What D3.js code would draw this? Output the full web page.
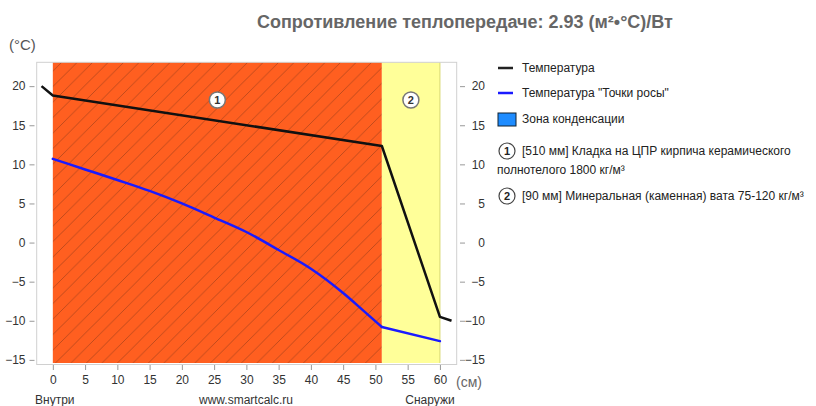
<!DOCTYPE html>
<html>
<head>
<meta charset="utf-8">
<script src="https://cdn.jsdelivr.net/npm/d3@7"></script>
<style>
  html, body { margin: 0; padding: 0; background: #fff; }
  svg { display: block; font-family: Arial, "Liberation Sans", sans-serif; }
</style>
</head>
<body>
<div id="chart"></div>
<script>
// данные графика
const tempX = [-1.75, 0, 51, 60, 61.8];
const tempY = [20, 18.8, 12.35, -9.5, -10];

const dewX = [0, 5, 10, 15, 20, 25, 30, 35, 40, 45, 48, 51, 60];
const dewY = [10.7, 9.35, 8.0, 6.6, 5.0, 3.2, 1.35, -0.95, -3.35, -6.45, -8.6, -10.8, -12.6];

const layerNum = [1, 2];
const layerFrom = [0, 51];
const layerTo = [51, 60];
const layerText = [
  ["[510 мм] Кладка на ЦПР кирпича керамического", "полнотелого 1800 кг/м³"],
  ["[90 мм] Минеральная (каменная) вата 75-120 кг/м³"]
];

const xTicks = [0, 5, 10, 15, 20, 25, 30, 35, 40, 45, 50, 55, 60];
const yTicks = [-15, -10, -5, 0, 5, 10, 15, 20];

const title = "Сопротивление теплопередаче: 2.93 (м²•°C)/Вт";

const W = 816, H = 406;
const svg = d3.select("#chart").append("svg").attr("width", W).attr("height", H);

const x = d3.scaleLinear().domain([-2.5, 62.6]).range([36.7, 456.7]);
const y = d3.scaleLinear().domain([-15.4, 23.05]).range([363, 62.3]);

// штриховка для слоя 1
const defs = svg.append("defs");
const pat = defs.append("pattern").attr("id", "hatch")
  .attr("patternUnits", "userSpaceOnUse").attr("width", 15.5).attr("height", 15.5);
pat.append("rect").attr("width", 15.5).attr("height", 15.5).attr("fill", "#ff5f20");
pat.append("path").attr("d", "M0,15.5 L15.5,0 M-4,4 L4,-4 M11.5,19.5 L19.5,11.5")
  .attr("stroke", "rgba(90,40,20,0.42)").attr("stroke-width", 0.9);

const layerFill = ["url(#hatch)", "#ffff99"];

// слои
svg.append("g").selectAll("rect").data(layerNum).join("rect")
  .attr("x", (d, i) => x(layerFrom[i]))
  .attr("y", y.range()[1])
  .attr("width", (d, i) => x(layerTo[i]) - x(layerFrom[i]))
  .attr("height", y.range()[0] - y.range()[1])
  .attr("fill", (d, i) => layerFill[i]);

svg.append("line").attr("x1", x(60)).attr("x2", x(60))
  .attr("y1", y.range()[1]).attr("y2", y.range()[0])
  .attr("stroke", "#d8d870").attr("stroke-width", 1);

// рамка
svg.append("rect").attr("x", x.range()[0]).attr("y", y.range()[1])
  .attr("width", x.range()[1] - x.range()[0]).attr("height", y.range()[0] - y.range()[1] + 1.5)
  .attr("fill", "none").attr("stroke", "#d0d0d0").attr("stroke-width", 1);

// оси
const axisStyle = g => {
  g.select(".domain").remove();
  g.selectAll(".tick line").attr("stroke", "#999");
  g.selectAll(".tick text").attr("fill", "#333").attr("font-size", 12)
    .attr("font-family", "Arial, 'Liberation Sans', sans-serif");
};

svg.append("g").attr("transform", "translate(34.5,0)")
  .call(d3.axisLeft(y).tickValues(yTicks).tickSize(5).tickPadding(4))
  .call(axisStyle);

svg.append("g").attr("transform", "translate(460,0)")
  .call(d3.axisRight(y).tickValues(yTicks).tickSize(5).tickPadding(4))
  .call(axisStyle)
  .call(g => g.selectAll(".tick text").attr("text-anchor", "end").attr("x", 25));

svg.append("g").attr("transform", "translate(0,365)")
  .call(d3.axisBottom(x).tickValues(xTicks).tickSize(5).tickPadding(5))
  .call(axisStyle);

// линии: точка росы внутри слоя 1 — плавная кривая, далее прямая
const dewPts = dewX.map((v, i) => [v, dewY[i]]);
const smooth = d3.line().x(d => x(d[0])).y(d => y(d[1])).curve(d3.curveMonotoneX);
const line = d3.line().x(d => x(d[0])).y(d => y(d[1]));
const dewG = svg.append("g").attr("fill", "none").attr("stroke", "#1a1aff")
  .attr("stroke-width", 2.5).attr("stroke-linejoin", "round").attr("stroke-linecap", "round");
dewG.append("path").attr("d", smooth(dewPts.filter(d => d[0] <= layerTo[0])));
dewG.append("path").attr("d", line(dewPts.filter(d => d[0] >= layerTo[0])));

svg.append("path").datum(tempX.map((v, i) => [v, tempY[i]]))
  .attr("d", line).attr("fill", "none").attr("stroke", "#111").attr("stroke-width", 2.5)
  .attr("stroke-linejoin", "round");

// номера слоёв на графике
const marks = svg.append("g").selectAll("g").data(layerNum).join("g")
  .attr("transform", (d, i) => `translate(${x((layerFrom[i] + layerTo[i]) / 2)},100)`);
marks.append("circle").attr("r", 8).attr("fill", "#fff").attr("stroke", "#777").attr("stroke-width", 1.5);
marks.append("text").attr("text-anchor", "middle").attr("dy", "0.36em")
  .attr("font-size", 11).attr("font-weight", "bold").attr("fill", "#333").text(d => d);

// подписи
svg.append("text").attr("x", 257).attr("y", 28).attr("font-size", 18).attr("font-weight", "bold")
  .attr("fill", "#666").text(title);
svg.append("text").attr("x", 9).attr("y", 50).attr("font-size", 15).attr("fill", "#555").text("(°C)");
svg.append("text").attr("x", 456).attr("y", 387).attr("font-size", 14).attr("fill", "#666").text("(см)");
svg.append("text").attr("x", 35).attr("y", 404).attr("font-size", 12).attr("fill", "#333").text("Внутри");
svg.append("text").attr("x", 246).attr("y", 404).attr("font-size", 12).attr("fill", "#333")
  .attr("text-anchor", "middle").text("www.smartcalc.ru");
svg.append("text").attr("x", 430).attr("y", 404).attr("font-size", 12).attr("fill", "#333")
  .attr("text-anchor", "middle").text("Снаружи");

// легенда
const lg = svg.append("g").attr("font-size", 12).attr("fill", "#222");
lg.append("line").attr("x1", 498).attr("x2", 513).attr("y1", 68).attr("y2", 68)
  .attr("stroke", "#222").attr("stroke-width", 2.5);
lg.append("text").attr("x", 522).attr("y", 72).text("Температура");
lg.append("line").attr("x1", 498).attr("x2", 513).attr("y1", 93).attr("y2", 93)
  .attr("stroke", "#1a1aff").attr("stroke-width", 2.5);
lg.append("text").attr("x", 522).attr("y", 97).text("Температура \"Точки росы\"");
lg.append("rect").attr("x", 498).attr("y", 113).attr("width", 18).attr("height", 13)
  .attr("fill", "#1e8cff").attr("stroke", "#123").attr("stroke-width", 1);
lg.append("text").attr("x", 522).attr("y", 123).text("Зона конденсации");

const legY = [151, 196];
layerNum.forEach((n, i) => {
  lg.append("circle").attr("cx", 507).attr("cy", legY[i]).attr("r", 8)
    .attr("fill", "#fff").attr("stroke", "#444").attr("stroke-width", 1.2);
  lg.append("text").attr("x", 507).attr("y", legY[i]).attr("dy", "0.36em")
    .attr("text-anchor", "middle").attr("font-size", 11).attr("font-weight", "bold").text(n);
  layerText[i].forEach((t, j) => {
    lg.append("text").attr("x", j === 0 ? 522 : 497).attr("y", legY[i] + 4 + j * 19).text(t);
  });
});
</script>
</body>
</html>
